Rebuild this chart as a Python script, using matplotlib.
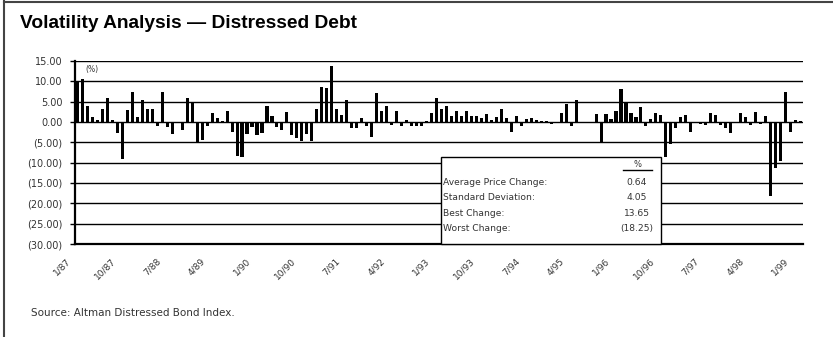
import matplotlib
matplotlib.use("Agg")
import matplotlib.pyplot as plt
from matplotlib.lines import Line2D
from matplotlib.patches import Rectangle
from matplotlib.transforms import ScaledTranslation

# monthly price change (%), 1/87 through 2/99
changes_87 = [10.0, 10.6, 4.0, 1.3, 0.6, 3.2, 5.8, 0.5, -2.8, -9.0, 3.0, 7.5]
changes_88 = [1.3, 5.4, 3.3, 3.3, -1.1, 7.5, -1.3, -2.9, -0.3, -2.0, 5.8, 4.7]
changes_89 = [-4.8, -4.5, -1.0, 2.2, 1.1, 0.3, 2.7, -2.5, -8.3, -8.7, -3.0, -1.3]
changes_90 = [-3.3, -2.8, 4.0, 1.5, -1.3, -2.0, 2.4, -3.2, -3.9, -4.7, -2.9, -4.7]
changes_91 = [3.2, 8.5, 8.4, 13.65, 3.1, 1.8, 5.4, -1.5, -1.5, 0.9, -1.0, -3.8]
changes_92 = [7.2, 2.6, 4.0, -0.8, 2.6, -1.1, 0.5, -0.9, -0.9, -0.9, 0.3, 2.3]
changes_93 = [5.8, 3.2, 4.0, 1.5, 2.7, 1.5, 2.7, 1.5, 1.4, 1.1, 1.9, 0.5]
changes_94 = [1.3, 3.2, 1.1, -2.4, 1.5, -1.0, 0.8, 1.1, 0.5, 0.3, 0.2, -0.6]
changes_95 = [0.1, 2.1, 4.5, -1.0, 5.5, 0.0, 0.0, 0.0, 1.9, -4.9, 2.0, 0.8]
changes_96 = [2.6, 8.0, 4.7, 2.3, 1.3, 3.6, -1.0, 0.7, 2.2, 1.7, -8.6, -5.5]
changes_97 = [-1.5, 1.2, 1.7, -2.5, 0.1, -0.6, -0.8, 2.3, 1.8, -0.8, -1.5, -2.8]
changes_98 = [0.0, 2.3, 1.2, -0.8, 2.4, -0.5, 1.4, -18.25, -11.2, -9.7, 7.5, -2.5]
changes_99 = [0.5, 0.2]

changes = (changes_87 + changes_88 + changes_89 + changes_90 + changes_91
           + changes_92 + changes_93 + changes_94 + changes_95 + changes_96
           + changes_97 + changes_98 + changes_99)

tick_labels = ["1/87", "10/87", "7/88", "4/89", "1/90", "10/90", "7/91", "4/92",
               "1/93", "10/93", "7/94", "4/95", "1/96", "10/96", "7/97", "4/98",
               "1/99"]
tick_step = 9

stat_names = ["Average Price Change:", "Standard Deviation:",
              "Best Change:", "Worst Change:"]
stat_values = ["0.64", "4.05", "13.65", "(18.25)"]

y_ticks = list(range(-30, 16, 5))


def fmt_pct(v):
    return f"{v:.2f}" if v >= 0 else f"({-v:.2f})"


fig = plt.figure(figsize=(8.33, 3.37), dpi=100)
ax = fig.add_axes([75 / 833, 1 - 244 / 337, 728 / 833, 183 / 337])

x = list(range(len(changes)))
ax.bar(x, changes, width=0.62, color="black", zorder=3)

ax.set_xlim(-0.5, len(changes) - 0.5)
ax.set_ylim(-30, 15)

ax.set_yticks(y_ticks)
ax.set_yticklabels([fmt_pct(v) for v in y_ticks])
ax.yaxis.grid(True, color="black", lw=1.0)
ax.set_axisbelow(True)
ax.tick_params(axis="y", length=3.6, width=1.0, pad=5.5, labelsize=7,
               labelcolor="#333333")

ax.set_xticks(range(0, len(changes), tick_step))
ax.set_xticklabels(tick_labels, rotation=45, ha="right", va="center",
                   rotation_mode="anchor")
ax.tick_params(axis="x", length=0, pad=11.5, labelsize=6.5, labelcolor="#333333")
shift = ScaledTranslation(-8 / 100, 0, fig.dpi_scale_trans)
for lbl in ax.get_xticklabels():
    lbl.set_transform(lbl.get_transform() + shift)

for side in ["top", "right"]:
    ax.spines[side].set_visible(False)
ax.spines["left"].set_linewidth(1.6)
ax.spines["bottom"].set_linewidth(1.6)

ax.text(0.0137, 0.953, "(%)", transform=ax.transAxes, fontsize=5.5,
        color="#333333", va="center")

# statistics panel
ax.add_patch(Rectangle((0.503, 0), 0.302, 0.475, transform=ax.transAxes,
                       facecolor="white", edgecolor="black", lw=1.0,
                       zorder=5, clip_on=False))
ax.text(0.772, 0.432, "%", transform=ax.transAxes, fontsize=6, ha="center",
        va="center", color="#333333", zorder=6)
ax.add_line(Line2D([0.753, 0.793], [0.404, 0.404], transform=ax.transAxes,
                   color="black", lw=1.0, zorder=6))
row_y = [0.335, 0.253, 0.168, 0.084]
for name, val, ry in zip(stat_names, stat_values, row_y):
    ax.text(0.5055, ry, name, transform=ax.transAxes, fontsize=6.6,
            va="center", color="#333333", zorder=6)
    ax.text(0.772, ry, val, transform=ax.transAxes, fontsize=6.6,
            ha="center", va="center", color="#333333", zorder=6)

fig.text(20 / 833, 1 - 28 / 337, "Volatility Analysis \u2014 Distressed Debt",
         fontsize=13.8, fontweight="heavy", family="Liberation Sans",
         va="baseline")
fig.text(31 / 833, 1 - 313 / 337, "Source: Altman Distressed Bond Index.",
         fontsize=7.5, color="#333333", va="center")

# frame around the exhibit
fig.add_artist(Line2D([3.5 / 833, 3.5 / 833], [0, 1], color="#444444", lw=1.5))
fig.add_artist(Line2D([3.5 / 833, 1], [1 - 1.5 / 337, 1 - 1.5 / 337],
                      color="#444444", lw=1.5))

fig.savefig("out.png", dpi=100)
